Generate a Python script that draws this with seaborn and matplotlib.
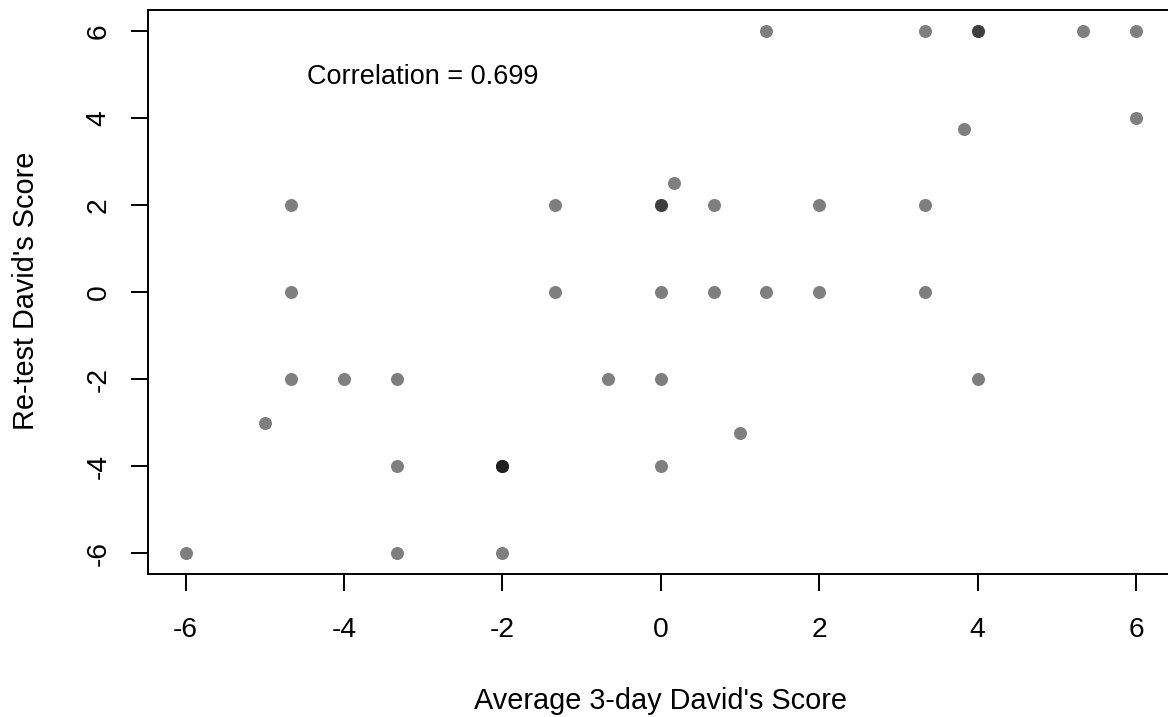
import matplotlib
matplotlib.use("Agg")
import matplotlib.pyplot as plt
import matplotlib.transforms as mtransforms
import seaborn as sns
import pandas as pd

# Average 3-day David's score vs. re-test David's score, one entry per individual
avg_3day = [
    1.333, 3.333, 4.0, 4.0, 5.333, 6.0,
    6.0,
    3.833,
    0.167,
    -4.667, -1.333, 0.0, 0.0, 0.667, 2.0, 3.333,
    -4.667, -1.333, 0.0, 0.667, 1.333, 2.0, 3.333,
    -4.667, -4.0, -3.333, -0.667, 0.0, 4.0,
    -5.0,
    1.0,
    -3.333, -2.0, -2.0, -2.0, 0.0,
    -6.0, -3.333, -2.0,
]
retest = [
    6, 6, 6, 6, 6, 6,
    4,
    3.75,
    2.5,
    2, 2, 2, 2, 2, 2, 2,
    0, 0, 0, 0, 0, 0, 0,
    -2, -2, -2, -2, -2, -2,
    -3,
    -3.25,
    -4, -4, -4, -4, -4,
    -6, -6, -6,
]
tick_values = [-6, -4, -2, 0, 2, 4, 6]
tick_labels = ["-6", "-4", "-2", "0", "2", "4", "6"]
corr_label = "Correlation = 0.699"

df = pd.DataFrame({"avg": avg_3day, "retest": retest})

sns.set_style("ticks")
plt.rcParams["font.family"] = ["Liberation Sans", "DejaVu Sans"]
plt.rcParams.update({
    "text.color": "black",
    "axes.labelcolor": "black",
    "xtick.color": "black",
    "ytick.color": "black",
    "axes.edgecolor": "black",
})

W, H = 1168, 717
fig = plt.figure(figsize=(W / 100, H / 100), dpi=100)
# axes box: left 147.5px, right 1174px (runs past the canvas), top 10px, bottom 574px
ax = fig.add_axes([147.5 / W, (H - 574) / H, (1174 - 147.5) / W, (574 - 10) / H])

sns.scatterplot(data=df, x="avg", y="retest", ax=ax, color="black",
                alpha=0.5, s=88, linewidth=0, legend=False)

ax.set_xlim(-6.48, 6.48)
ax.set_ylim(-6.48, 6.48)

ax.set_xticks(tick_values)
ax.set_xticklabels(tick_labels, fontsize=20.3)
ax.set_yticks(tick_values)
ax.set_yticklabels(tick_labels, fontsize=20.3, rotation=90, va="center")

ax.tick_params(axis="x", length=12.5, width=1.4, pad=18.5, color="black")
ax.tick_params(axis="y", length=12.5, width=1.4, pad=13.5, color="black")

for sp in ax.spines.values():
    sp.set_visible(True)
    sp.set_linewidth(1.4)
    sp.set_color("black")

ax.set_xlabel("Average 3-day David's Score", fontsize=20.8, va="baseline")
ax.xaxis.set_label_coords(661 / W, 1 - 709 / H, transform=fig.transFigure)
ax.set_ylabel("Re-test David's Score", fontsize=20.8, va="baseline", rotation=90)
ax.yaxis.set_label_coords(34 / W, 1 - 291 / H, transform=fig.transFigure)

text_tr = mtransforms.offset_copy(ax.transData, fig=fig, x=0, y=-3, units="dots")
ax.text(-3, 5, corr_label, ha="center", va="center", fontsize=19.5,
        transform=text_tr)

fig.savefig("out.png", dpi=100)
